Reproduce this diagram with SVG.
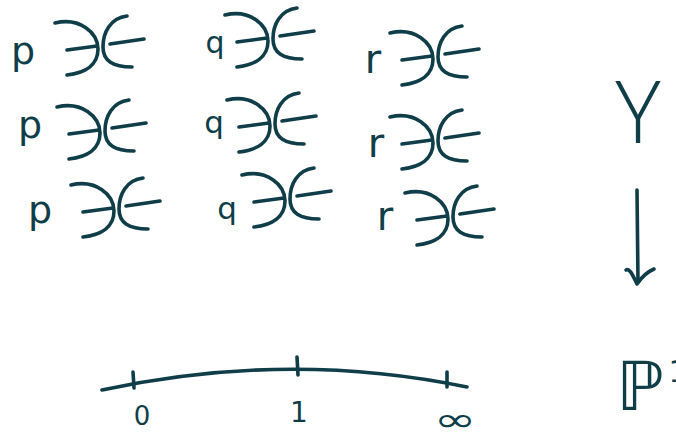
<svg xmlns="http://www.w3.org/2000/svg" xmlns:xlink="http://www.w3.org/1999/xlink" width="676" height="439" viewBox="0 0 676 439">
<style>
.ink{fill:none;stroke:#0f3e49;stroke-width:3.6;stroke-linecap:round;stroke-linejoin:round}
.t{fill:#0f3e49;font-family:"DejaVu Sans",sans-serif;text-anchor:middle}
.big{fill:#0f3e49;font-family:"Open Sans","Noto Sans",sans-serif;font-weight:300;text-anchor:middle}
</style>
<defs>
<g id="nodal">
<path class="ink" d="M0,0 C25,-6 43,10 43,26 C43,42 30,50 12,52"/>
<path class="ink" d="M12,27 L42,23"/>
<path class="ink" d="M72,-7 C55,-5 48,10 48,24 C48,38 58,44 77,44"/>
<path class="ink" d="M55,21 L89,16"/>
</g>
</defs>
<rect width="676" height="439" fill="#ffffff"/>
<g id="row1">
<g id="p1"><text class="t" x="23" y="64" font-size="38">p</text><use xlink:href="#nodal" x="55" y="23"/></g>
<g id="q1"><text class="t" x="215" y="53" font-size="30">q</text><use xlink:href="#nodal" x="225" y="15"/></g>
<g id="r1"><text class="t" x="373" y="73" font-size="40">r</text><use xlink:href="#nodal" x="390" y="33"/></g>
</g>
<g id="row2">
<g id="p2"><text class="t" x="30" y="138" font-size="38">p</text><use xlink:href="#nodal" x="57" y="107"/></g>
<g id="q2"><text class="t" x="214" y="133" font-size="31">q</text><use xlink:href="#nodal" x="227" y="100"/></g>
<g id="r2"><text class="t" x="376" y="157" font-size="40">r</text><use xlink:href="#nodal" x="390" y="117"/></g>
</g>
<g id="row3">
<g id="p3"><text class="t" x="40" y="223" font-size="38">p</text><use xlink:href="#nodal" x="71" y="185"/></g>
<g id="q3"><text class="t" x="227" y="219" font-size="31">q</text><use xlink:href="#nodal" x="242" y="175"/></g>
<g id="r3"><text class="t" x="385" y="230" font-size="40">r</text><use xlink:href="#nodal" x="405" y="193"/></g>
</g>
<g id="Y"><text class="big" x="638" y="143" font-size="86">Y</text></g>
<g id="P1"><text class="t" x="640" y="410" font-size="68">ℙ</text><text class="t" x="678" y="382" font-size="30">1</text></g>
<g id="line">
<path class="ink" d="M102,390 Q288,350 467,387"/>
<path class="ink" d="M133,372 L134,388"/>
<path class="ink" d="M297,357 L298,375"/>
<path class="ink" d="M447,372 L447,387"/>
<text class="t" x="142" y="425" font-size="26">0</text>
<text class="t" x="299" y="422" font-size="28">1</text>
<text class="t" transform="translate(455,431) scale(1.55,1)" x="0" y="0" font-size="33">∞</text>
</g>
<g id="connectors">
<path class="ink" d="M637,190 L638,282"/>
<path class="ink" d="M626,270 C630,268 633,276 637,284 C641,278 647,272 654,269"/>
</g>
</svg>
